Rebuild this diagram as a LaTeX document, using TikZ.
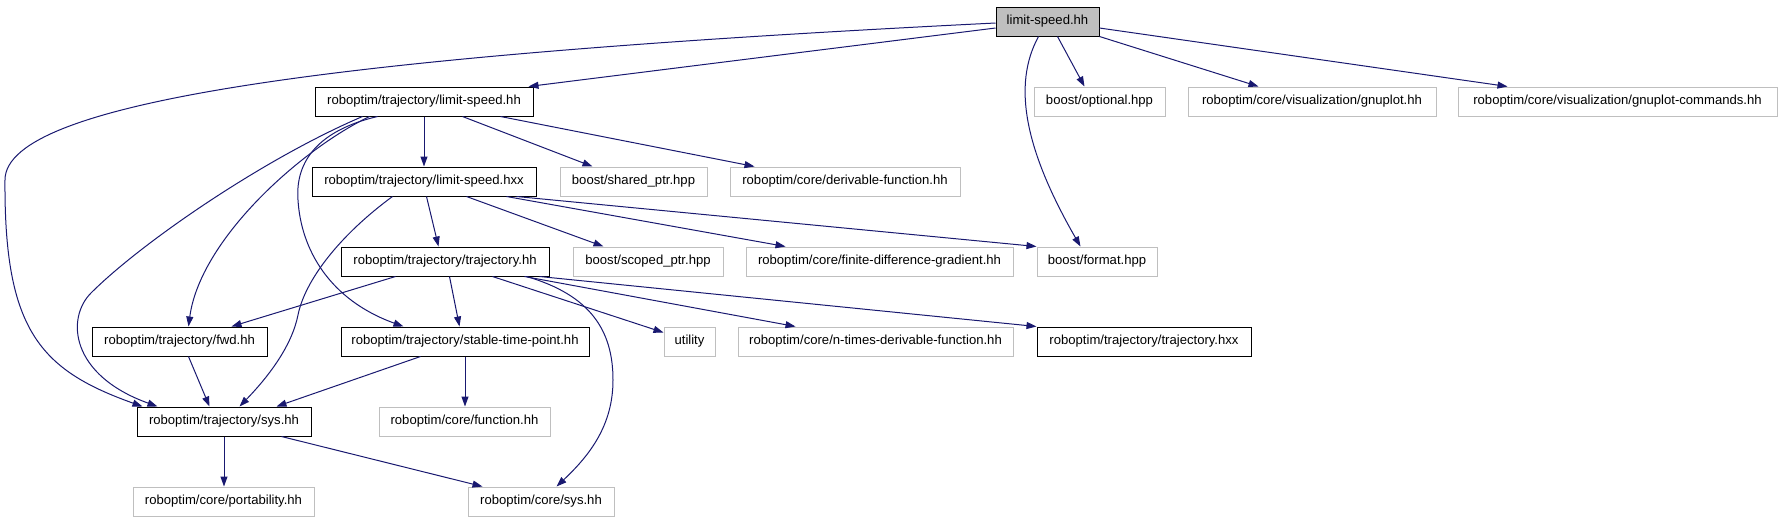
\documentclass[tikz,border=0pt]{standalone}
\usepackage{fontspec}
\setmainfont{Liberation Sans}
\usetikzlibrary{arrows.meta,calc}
\definecolor{edgeblue}{HTML}{191970}
\definecolor{boxgrey}{HTML}{BFBFBF}
\begin{document}
\begin{tikzpicture}[x=1pt,y=-1pt,
  every node/.style={font=\fontsize{13.1}{15}\selectfont, inner sep=0pt, minimum height=29pt, anchor=center},
  filebox/.style={draw=black, line width=1pt},
  extbox/.style={draw=boxgrey, line width=1pt},
  mainbox/.style={draw=black, fill=boxgrey, line width=1pt},
  dep/.style={draw=edgeblue, line width=1pt, -{Triangle[length=10pt,width=7pt]}},
]
\useasboundingbox (0,0) rectangle (1781,523);
% rank 0
\node[mainbox, minimum width=103pt] (top) at (1047.5,21.5) {limit-speed.hh};
% rank 1
\node[filebox, minimum width=218pt] (tls) at (424,101.5) {roboptim/trajectory/limit-speed.hh};
\node[extbox, minimum width=131pt] (opt) at (1099.5,101.5) {boost/optional.hpp};
\node[extbox, minimum width=248pt] (gnu) at (1312,101.5) {roboptim/core/visualization/gnuplot.hh};
\node[extbox, minimum width=319pt] (gnuc) at (1617.5,101.5) {roboptim/core/visualization/gnuplot-commands.hh};
% rank 2
\node[filebox, minimum width=224pt] (hxx) at (424,181.5) {roboptim/trajectory/limit-speed.hxx};
\node[extbox, minimum width=147pt] (shp) at (633.5,181.5) {boost/shared\_ptr.hpp};
\node[extbox, minimum width=230pt] (der) at (845,181.5) {roboptim/core/derivable-function.hh};
% rank 3
\node[filebox, minimum width=208pt] (tra) at (445,261.5) {roboptim/trajectory/trajectory.hh};
\node[extbox, minimum width=150pt] (scp) at (648,261.5) {boost/scoped\_ptr.hpp};
\node[extbox, minimum width=267pt] (fdg) at (879.5,261.5) {roboptim/core/finite-difference-gradient.hh};
\node[extbox, minimum width=120pt] (fmt) at (1097,261.5) {boost/format.hpp};
% rank 4
\node[filebox, minimum width=175pt] (fwd) at (179.5,341.5) {roboptim/trajectory/fwd.hh};
\node[filebox, minimum width=248pt] (stp) at (465,341.5) {roboptim/trajectory/stable-time-point.hh};
\node[extbox, minimum width=51pt] (utl) at (689.5,341.5) {utility};
\node[extbox, minimum width=275pt] (ntd) at (875.5,341.5) {roboptim/core/n-times-derivable-function.hh};
\node[filebox, minimum width=214pt] (thxx) at (1144,341.5) {roboptim/trajectory/trajectory.hxx};
% rank 5
\node[filebox, minimum width=174pt] (sys) at (224,421.5) {roboptim/trajectory/sys.hh};
\node[extbox, minimum width=171pt] (fun) at (464.5,421.5) {roboptim/core/function.hh};
% rank 6
\node[extbox, minimum width=181pt] (por) at (223.5,501.5) {roboptim/core/portability.hh};
\node[extbox, minimum width=146pt] (csys) at (541,501.5) {roboptim/core/sys.hh};

% edges from limit-speed.hh
\draw[dep] ($(top.west)+(0,6.5)$) -- ($(tls.north west)+(214,0)$);
\draw[dep] ($(top.west)+(0,1.5)$) .. controls (350,55) and (5,100) .. (5,180)
  .. controls (4,330) and (40,370) .. ($(sys.north west)+(6,0)$);
\draw[dep] ($(top.south west)+(62,0)$) -- ($(opt.north west)+(51,0)$);
\draw[dep] ($(top.south west)+(43,0)$) .. controls (1012,85) and (1025,150) .. ($(fmt.north west)+(44,0)$);
\draw[dep] (top.south east) -- ($(gnu.north west)+(71,0)$);
\draw[dep] ($(top.east)+(0,6.5)$) -- ($(gnuc.north west)+(50,0)$);

% edges from roboptim/trajectory/limit-speed.hh
\draw[dep] (tls.south) -- (hxx.north);
\draw[dep] ($(tls.south west)+(148,0)$) -- ($(shp.north west)+(33,0)$);
\draw[dep] ($(tls.south west)+(186,0)$) -- ($(der.north west)+(25,0)$);
\draw[dep] ($(tls.south west)+(48,0)$) .. controls (263,159) and (141,243) .. (91,293)
  .. controls (66,318) and (70,375) .. ($(sys.north west)+(21,0)$);
\draw[dep] ($(tls.south west)+(55,0)$) .. controls (300,150) and (200,240) .. ($(fwd.north west)+(97,0)$);
\draw[dep] ($(tls.south west)+(63,0)$) .. controls (320,130) and (295,160) .. (298,200)
  .. controls (301,250) and (330,300) .. ($(stp.north west)+(63,0)$);

% edges from limit-speed.hxx
\draw[dep] ($(hxx.south west)+(115,0)$) -- ($(tra.north west)+(98,0)$);
\draw[dep] ($(hxx.south west)+(81,0)$) .. controls (340,235) and (305,280) .. (298,315)
  .. controls (292,345) and (270,375) .. ($(sys.north west)+(103,0)$);
\draw[dep] ($(hxx.south west)+(155,0)$) -- ($(scp.north west)+(31,0)$);
\draw[dep] ($(hxx.south west)+(195,0)$) -- ($(fdg.north west)+(40,0)$);
\draw[dep] ($(hxx.south west)+(205,0)$) -- (fmt.north west);

% edges from trajectory.hh
\draw[dep] ($(tra.south west)+(55,0)$) -- ($(fwd.north west)+(140,0)$);
\draw[dep] ($(tra.south west)+(109,0)$) -- ($(stp.north west)+(119,0)$);
\draw[dep] ($(tra.south west)+(152,0)$) -- ($(utl.west)+(0,-9)$);
\draw[dep] ($(tra.south west)+(184,0)$) -- ($(ntd.north west)+(58,0)$);
\draw[dep] ($(tra.south west)+(199,0)$) -- (thxx.north west);
\draw[dep] ($(tra.south west)+(186,0)$) .. controls (590,295) and (613,330) .. (613,380)
  .. controls (613,425) and (590,455) .. ($(csys.north west)+(89,0)$);

% lower edges
\draw[dep] ($(fwd.south west)+(97,0)$) -- ($(sys.north west)+(73,0)$);
\draw[dep] ($(stp.south west)+(80,0)$) -- ($(sys.north west)+(140,0)$);
\draw[dep] (stp.south) -- (stp.south |- fun.north);
\draw[dep] (sys.south) -- (sys.south |- por.north);
\draw[dep] ($(sys.south west)+(145,0)$) -- ($(csys.north west)+(15,0)$);
\end{tikzpicture}
\end{document}
